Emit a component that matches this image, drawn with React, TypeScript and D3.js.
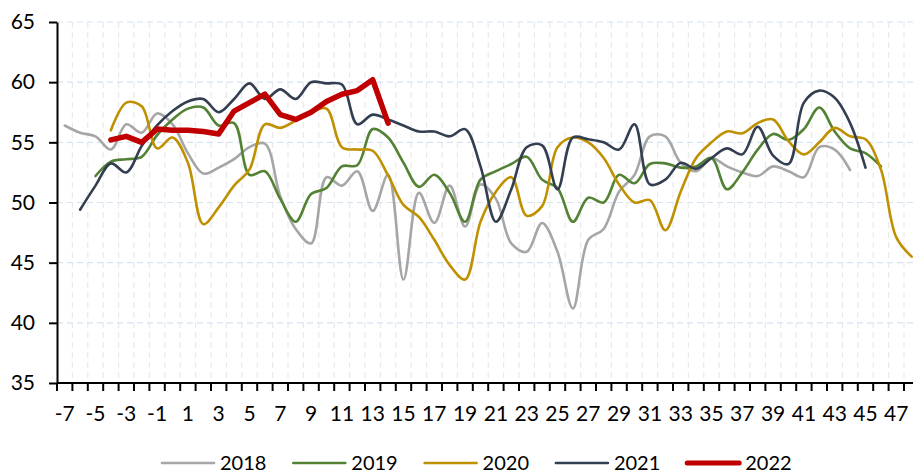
import * as d3 from "d3";
import React, { useEffect, useRef } from "react";

// week numbers along the category axis
const weeks = [
  -7, -6, -5, -4, -3, -2, -1, 0, 1, 2, 3, 4, 5, 6, 7, 8, 9, 10, 11, 12, 13, 14,
  15, 16, 17, 18, 19, 20, 21, 22, 23, 24, 25, 26, 27, 28, 29, 30, 31, 32, 33,
  34, 35, 36, 37, 38, 39, 40, 41, 42, 43, 44, 45, 46, 47, 48,
];
const yTicks = [35, 40, 45, 50, 55, 60, 65];

// each series starts at its own week
const start2018 = -7;
const values2018 = [
  56.4, 55.8, 55.5, 54.4, 56.5, 55.8, 57.4, 56.5, 54.1, 52.4, 52.9, 53.6, 54.6,
  54.9, 50.5, 47.8, 46.6, 52.1, 51.4, 52.6, 49.3, 52.3, 43.6, 50.8, 48.3, 51.4,
  48.0, 51.5, 50.3, 46.6, 45.9, 48.3, 45.9, 41.2, 46.9, 47.8, 50.9, 52.3, 55.5,
  55.5, 53.3, 52.6, 53.7, 53.0, 52.5, 52.2, 53.0, 52.6, 52.1, 54.6, 54.4, 52.7,
];
const start2019 = -5;
const values2019 = [
  52.2, 53.4, 53.6, 53.8, 55.6, 56.9, 57.8, 57.9, 56.4, 56.6, 52.3, 52.6, 50.3,
  48.4, 50.7, 51.2, 53.0, 53.1, 56.1, 55.4, 53.3, 51.3, 52.3, 50.8, 48.4, 51.9,
  52.6, 53.2, 53.8, 51.9, 51.2, 48.4, 50.4, 50.0, 52.3, 51.6, 53.2, 53.25, 52.9,
  53.0, 53.7, 51.1, 52.5, 54.4, 55.7, 55.2, 56.1, 57.9, 55.9, 54.5, 54.1, 53.0,
];
const start2020 = -4;
const values2020 = [
  56.0, 58.3, 58.0, 54.5, 55.4, 53.3, 48.2, 49.6, 51.4, 52.75, 56.5, 56.2, 56.8,
  57.5, 57.8, 54.6, 54.4, 54.3, 52.25, 49.8, 48.8, 46.9, 44.8, 43.6, 48.4, 50.9,
  52.1, 48.9, 49.7, 54.6, 55.4, 55.0, 53.7, 51.5, 50.0, 50.2, 47.7, 50.9, 53.7,
  55.0, 55.9, 55.75, 56.6, 56.9, 55.1, 54.0, 55.0, 56.2, 55.5, 55.25, 52.75,
  47.1, 45.5,
];
const start2021 = -6;
const values2021 = [
  49.4, 51.4, 53.25, 52.5, 54.7, 56.4, 57.6, 58.4, 58.6, 57.5, 58.6, 59.9, 58.6,
  59.4, 58.6, 60.0, 59.9, 59.8, 56.5, 57.3, 56.9, 56.4, 55.9, 55.9, 55.5, 56.1,
  53.0, 48.4, 51.1, 54.6, 54.75, 51.1, 55.4, 55.25, 55.0, 54.4, 56.5, 51.5,
  51.9, 53.3, 52.8, 53.7, 54.5, 54.0, 56.3, 53.9, 53.2, 58.3, 59.3, 58.7, 56.6,
  52.9,
];
const start2022 = -4;
const values2022 = [
  55.2, 55.5, 55.0, 56.1, 56.0, 56.0, 55.9, 55.7, 57.6, 58.3, 59.0, 57.3, 56.9,
  57.5, 58.4, 59.0, 59.3, 60.2, 56.6,
];

const seriesNames = ["2018", "2019", "2020", "2021", "2022"];
const seriesStarts = [start2018, start2019, start2020, start2021, start2022];
const seriesValues = [values2018, values2019, values2020, values2021, values2022];
const seriesColors = ["#A6A6A6", "#548235", "#BF9000", "#333F50", "#C00000"];

const font = "Lato, 'Open Sans', sans-serif";

function Chart() {
  const ref = useRef<SVGSVGElement>(null);

  useEffect(() => {
    if (!ref.current) return;
    const width = 913;
    const height = 475;
    const left = 57;
    const top = 22;
    const bottom = 383;
    const band = 15.4;

    const svg = d3.select(ref.current);
    svg.selectChildren().remove();
    svg.attr("viewBox", [0, 0, width, height].join(" "));

    const x = d3
      .scaleBand<string>()
      .domain(weeks.map(String))
      .range([left, left + weeks.length * band]);
    const y = d3.scaleLinear().domain([35, 65]).range([bottom, top]);
    const cx = (w: number) => (x(String(w)) as number) + x.bandwidth() / 2;

    // vertical grid at category boundaries
    svg
      .append("g")
      .selectAll("line")
      .data(weeks.slice(1))
      .join("line")
      .attr("x1", (w) => x(String(w)) as number)
      .attr("x2", (w) => x(String(w)) as number)
      .attr("y1", top)
      .attr("y2", bottom)
      .attr("stroke", "#EAEAEA")
      .attr("stroke-width", 1.2)
      .attr("stroke-dasharray", "6,4");

    // horizontal grid
    svg
      .append("g")
      .selectAll("line")
      .data(yTicks.slice(1))
      .join("line")
      .attr("x1", left)
      .attr("x2", width)
      .attr("y1", (d) => y(d))
      .attr("y2", (d) => y(d))
      .attr("stroke", "#D5E4F3")
      .attr("stroke-width", 1.2)
      .attr("stroke-dasharray", "6,4");

    // lines
    const smooth = d3
      .line<[number, number]>()
      .x((d) => cx(d[0]))
      .y((d) => y(d[1]))
      .curve(d3.curveCatmullRom.alpha(0.5));
    const straight = d3
      .line<[number, number]>()
      .x((d) => cx(d[0]))
      .y((d) => y(d[1]));

    seriesValues.forEach((vals, k) => {
      const pts = vals.map((v, i) => [seriesStarts[k] + i, v] as [number, number]);
      const isLast = k === seriesValues.length - 1;
      svg
        .append("path")
        .attr("d", (isLast ? straight : smooth)(pts))
        .attr("fill", "none")
        .attr("stroke", seriesColors[k])
        .attr("stroke-width", isLast ? 5.5 : 2.6)
        .attr("stroke-linejoin", "round")
        .attr("stroke-linecap", "round");
    });

    // y axis
    const yAxis = svg
      .append("g")
      .attr("transform", `translate(${left},0)`)
      .call(d3.axisLeft(y).tickValues(yTicks).tickSize(8).tickSizeOuter(0).tickPadding(14));
    yAxis.select(".domain").attr("stroke", "#000").attr("stroke-width", 2);
    yAxis.selectAll(".tick line").attr("stroke", "#000").attr("stroke-width", 2);
    yAxis
      .selectAll(".tick text")
      .attr("font-family", font)
      .attr("font-size", 21)
      .attr("fill", "#000");

    // x axis
    const xAxis = svg.append("g");
    xAxis
      .append("line")
      .attr("x1", left)
      .attr("x2", width)
      .attr("y1", bottom)
      .attr("y2", bottom)
      .attr("stroke", "#000")
      .attr("stroke-width", 2);
    xAxis
      .selectAll("line.tick")
      .data(weeks)
      .join("line")
      .attr("class", "tick")
      .attr("x1", (w) => x(String(w)) as number)
      .attr("x2", (w) => x(String(w)) as number)
      .attr("y1", bottom)
      .attr("y2", bottom + 8)
      .attr("stroke", "#000")
      .attr("stroke-width", 2);
    xAxis
      .selectAll("text")
      .data(weeks.filter((w, i) => i % 2 === 0))
      .join("text")
      .attr("x", (w) => cx(w))
      .attr("y", 421)
      .attr("text-anchor", "middle")
      .attr("font-family", font)
      .attr("font-size", 21)
      .attr("fill", "#000")
      .text((w) => String(w));

    // legend
    const legend = svg
      .append("g")
      .selectAll("g")
      .data(seriesNames)
      .join("g")
      .attr("transform", (d, i) => `translate(${162 + i * 131.3},463)`);
    legend
      .append("line")
      .attr("x1", 0)
      .attr("x2", 52)
      .attr("stroke", (d, i) => seriesColors[i])
      .attr("stroke-width", (d, i) => (i === 4 ? 5 : 2.6))
      .attr("stroke-linecap", "round");
    legend
      .append("text")
      .attr("x", 58)
      .attr("y", 7)
      .attr("font-family", font)
      .attr("font-size", 20)
      .attr("fill", "#000")
      .text((d) => d);
  }, []);

  return (
    <svg
      ref={ref}
      width={913}
      height={475}
      style={{ position: "absolute", left: 0, top: 0, background: "#fff" }}
    ></svg>
  );
}

export default function App() {
  return <Chart />;
}
